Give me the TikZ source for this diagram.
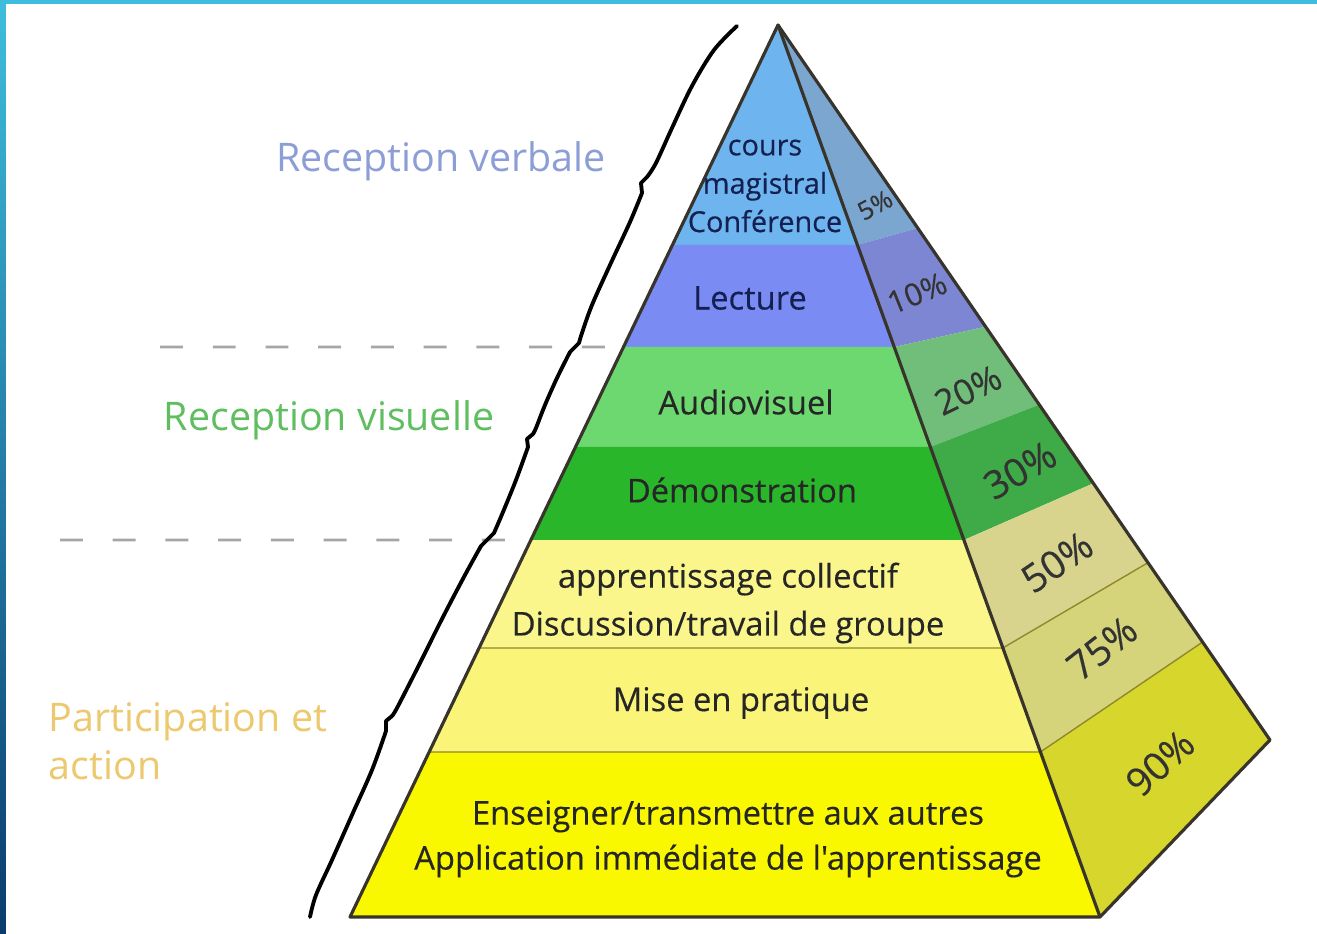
\documentclass[tikz,border=0pt]{standalone}
\usepackage{fontspec}
\setmainfont{Open Sans}
\newfontfamily\semifont{Open Sans}[FakeBold=0.35]
\usetikzlibrary{calc}

% front face of the pyramid
\definecolor{fcours}{RGB}{110,180,238}
\definecolor{flect}{RGB}{122,140,244}
\definecolor{faudio}{RGB}{110,216,112}
\definecolor{fdemo}{RGB}{42,182,42}
\definecolor{fcoll}{RGB}{250,246,140}
\definecolor{fprat}{RGB}{250,245,120}
\definecolor{fens}{RGB}{250,248,0}
% side face
\definecolor{scours}{RGB}{122,166,208}
\definecolor{slect}{RGB}{124,134,210}
\definecolor{saudio}{RGB}{112,190,122}
\definecolor{sdemo}{RGB}{62,170,72}
\definecolor{scoll}{RGB}{216,212,142}
\definecolor{sprat}{RGB}{214,212,122}
\definecolor{sens}{RGB}{214,214,44}
% labels
\definecolor{verbcol}{RGB}{140,158,214}
\definecolor{viscol}{RGB}{95,190,95}
\definecolor{actcol}{RGB}{236,200,110}
\definecolor{navytxt}{RGB}{20,32,80}
\definecolor{framecol}{RGB}{62,190,220}
\definecolor{framedark}{RGB}{10,60,110}

\begin{document}
\begin{tikzpicture}[x=0.01cm, y=-0.01cm,
    band/.style={font=\semifont\fontsize{9.3}{13.6}\selectfont, text=black!85, align=center, inner sep=0pt},
    pct/.style={font=\semifont\fontsize{11}{12}\selectfont, text=black!80, inner sep=0pt},
    rim/.style={draw=black!80!olive, line width=0.9pt, line join=round},
    bandline/.style={draw=olive!70!gray, line width=0.4pt},
    guide/.style={draw=black!35, line width=0.8pt, dash pattern=on 6.5pt off 8.5pt},
    wave/.style={draw=black, line width=1.1pt, line cap=round, line join=round},
    zone/.style={font=\fontsize{11.2}{13.6}\selectfont, inner sep=0pt}]

    \useasboundingbox (0,0) rectangle (1317,934);
    \fill[white] (0,0) rectangle (1317,934);
    % slide frame
    \shade[top color=framecol, bottom color=framedark] (0,0) rectangle (6,934);
    \fill[framecol] (0,0) rectangle (1317,4);

    \coordinate (apex) at (778,25);
    \coordinate (bl) at (350,917);
    \coordinate (br) at (1100,917);
    \coordinate (bk) at (1270,740);

    %dashed separators of the groups
    \coordinate (g1) at (160,347);
    \coordinate (g2) at (60,540);
    \draw[guide] (g1) -- ($(apex)!0.361!(bl)$);
    \draw[guide] (g2) -- ($(apex)!0.5774!(bl)$);

    %torn line on the left
    \draw[wave] plot[smooth, tension=0.55] coordinates {(737,26) (714,50) (692,86) (672,128) (656,163) (647,177)} -- (641,183) -- (642,193);
    \draw[wave] plot[smooth, tension=0.55] coordinates {(642,193) (630,222) (610,265) (592,305) (582,333) (579,343)} -- (574,348) -- (570,352);
    \draw[wave] plot[smooth, tension=0.55] coordinates {(570,352) (557,378) (545,405) (536,428) (533,434)} -- (527,439) -- (528,447);
    \draw[wave] plot[smooth, tension=0.55] coordinates {(528,447) (516,480) (503,512) (494,533)} -- (487,540) -- (481,546);
    \draw[wave] plot[smooth, tension=0.55] coordinates {(481,546) (465,575) (443,617) (418,667) (397,708) (392,716)} -- (386,721) -- (386,731);
    \draw[wave] plot[smooth, tension=0.55] coordinates {(386,731) (372,770) (352,815) (332,860) (316,895) (310,917)};

    %front bands
    \foreach \ta/\tb/\col in {0/0.2466/fcours, 0.2466/0.361/flect, 0.361/0.4731/faudio,
        0.4731/0.5774/fdemo, 0.5774/0.6984/fcoll, 0.6984/0.815/fprat, 0.815/1/fens}
        \fill[\col] ($(apex)!\ta!(bl)$) -- ($(apex)!\tb!(bl)$) -- ($(apex)!\tb!(br)$) -- ($(apex)!\ta!(br)$) -- cycle;
    %side bands
    \foreach \ta/\tb/\sa/\sb/\col in {0/0.2466/0/0.284/scours, 0.2466/0.361/0.284/0.422/slect,
        0.361/0.4731/0.422/0.531/saudio, 0.4731/0.5774/0.531/0.641/sdemo,
        0.5774/0.6984/0.641/0.752/scoll, 0.6984/0.815/0.752/0.863/sprat, 0.815/1/0.863/1/sens}
        \fill[\col] ($(apex)!\ta!(br)$) -- ($(apex)!\tb!(br)$) -- ($(apex)!\sb!(bk)$) -- ($(apex)!\sa!(bk)$) -- cycle;

    \foreach \t/\s in {0.6984/0.752, 0.815/0.863}{
        \draw[bandline] ($(apex)!\t!(bl)$) -- ($(apex)!\t!(br)$) -- ($(apex)!\s!(bk)$);
    }
    \draw[rim] (apex) -- (bl) -- (br) -- (bk) -- cycle;
    \draw[rim] (apex) -- (br);

    %texts of the levels
    \node[band, font=\semifont\fontsize{8.2}{10.9}\selectfont, text=navytxt] (cours) at (765,186) {cours\\magistral\\Conférence};
    \node[band, text=navytxt] (lecture) at (750,298) {Lecture};
    \node[band] (audio) at (746,402) {Audiovisuel};
    \node[band] (demo) at (742,490) {Démonstration};
    \node[band] (coll) at (728,603) {apprentissage collectif\\Discussion/travail de groupe};
    \node[band] (prat) at (741,703) {Mise en pratique};
    \node[band, font=\semifont\fontsize{9.3}{12.8}\selectfont] (ens) at (728,839) {Enseigner/transmettre aux autres\\Application immédiate de l'apprentissage};

    %retention rates
    \node[pct, font=\semifont\fontsize{7.2}{8}\selectfont, rotate=28] (p5) at (875,205) {5\%};
    \node[pct, font=\semifont\fontsize{8.8}{10}\selectfont, rotate=22] (p10) at (917,293) {10\%};
    \node[pct, font=\semifont\fontsize{10}{11}\selectfont, rotate=26] (p20) at (968,390) {20\%};
    \node[pct, rotate=30] (p30) at (1020,470) {30\%};
    \node[pct, rotate=34] (p50) at (1057,562) {50\%};
    \node[pct, rotate=38] (p75) at (1102,648) {75\%};
    \node[pct, rotate=42] (p90) at (1160,763) {90\%};

    %groups
    \node[zone, text=verbcol] (verbale) at (441,161) {Reception verbale};
    \node[zone, text=viscol] (visuelle) at (329,420) {Reception visuelle};
    \node[zone, text=actcol, align=left, anchor=west] (action) at (48,741) {Participation et\\action};
\end{tikzpicture}
\end{document}
